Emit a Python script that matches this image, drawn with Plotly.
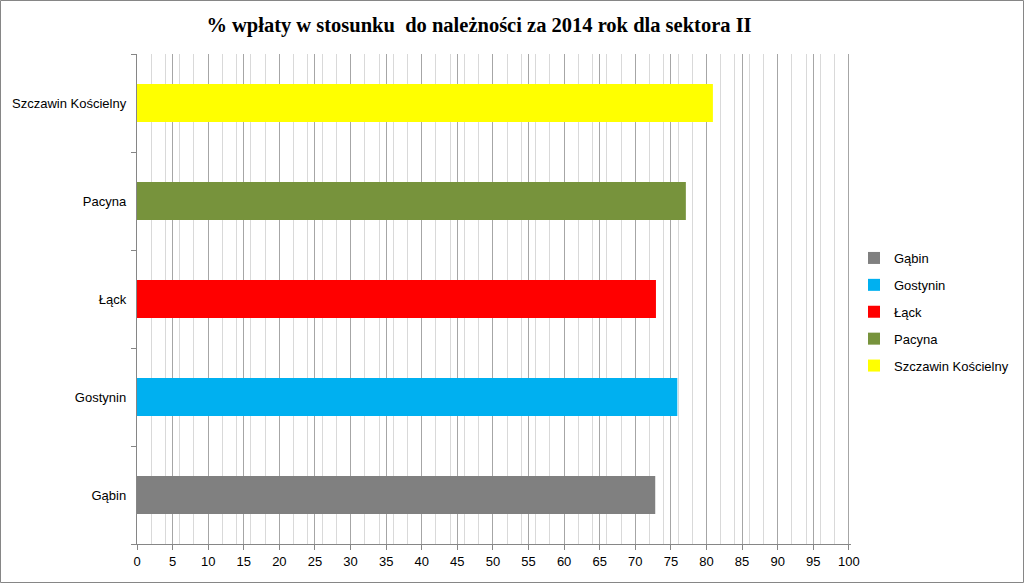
import plotly.graph_objects as go

categories = ["Gąbin", "Gostynin", "Łąck", "Pacyna", "Szczawin Kościelny"]
values = [72.8, 75.9, 72.9, 77.1, 80.9]
colors = ["#808080", "#00B0F0", "#FF0000", "#77933C", "#FFFF00"]
x_ticks = list(range(0, 101, 5))

fig = go.Figure()
for c, v, col in zip(categories, values, colors):
    fig.add_trace(go.Bar(y=[c], x=[v], name=c, orientation="h", legendgroup=c,
                         marker=dict(color=col, line=dict(width=0)), width=0.39))

L, R, T, B = 137, 173, 54, 39
W, H = 1024, 583
pw, ph = W - L - R, H - T - B

fig.update_layout(
    width=W, height=H,
    margin=dict(l=L, r=R, t=T, b=B, autoexpand=False),
    paper_bgcolor="white", plot_bgcolor="white",
    barmode="overlay",
    title=dict(text="<b>% wpłaty w stosunku  do należności za 2014 rok dla sektora II</b>",
               font=dict(family="Liberation Serif", size=20.5, color="black"),
               x=479 / W, xanchor="center", y=1 - 25 / H, yanchor="middle"),
    font=dict(family="Liberation Sans", size=13, color="black"),
    xaxis=dict(range=[0, 100.3], tickvals=x_ticks, showgrid=True, gridcolor="#A6A6A6", gridwidth=1,
               minor=dict(dtick=2, tick0=0, showgrid=True, gridcolor="#D9D9D9", gridwidth=1),
               showline=True, linecolor="#868686", ticks="outside", ticklen=5, tickcolor="#868686",
               zeroline=False, tickfont=dict(size=13), fixedrange=True),
    yaxis=dict(categoryorder="array", categoryarray=categories, showline=True, linecolor="#868686",
               ticks="outside", ticklen=5, tickcolor="#868686", tickson="boundaries",
               showgrid=False, tickfont=dict(size=13), ticksuffix="  ", fixedrange=True),
    legend=dict(x=(854 - L) / pw, xanchor="left", y=(H - B - 243) / ph, yanchor="top",
                bgcolor="rgba(0,0,0,0)",
                traceorder="grouped", font=dict(size=13), tracegroupgap=7, itemwidth=30),
    shapes=[dict(type="rect", xref="paper", yref="paper",
                 x0=(0.5 - L) / pw, x1=(W - 0.5 - L) / pw,
                 y0=(H - B - (H - 0.5)) / ph, y1=(H - B - 0.5) / ph,
                 line=dict(color="#868686", width=1), fillcolor="rgba(0,0,0,0)", layer="above")],
)

fig.write_html("out.html", config={"displayModeBar": False})
with open("out.html", encoding="utf-8") as f:
    html = f.read()
html = html.replace("<head>", "<head><style>html,body{margin:0;padding:0;overflow:hidden;}</style>", 1)
with open("out.html", "w", encoding="utf-8") as f:
    f.write(html)
